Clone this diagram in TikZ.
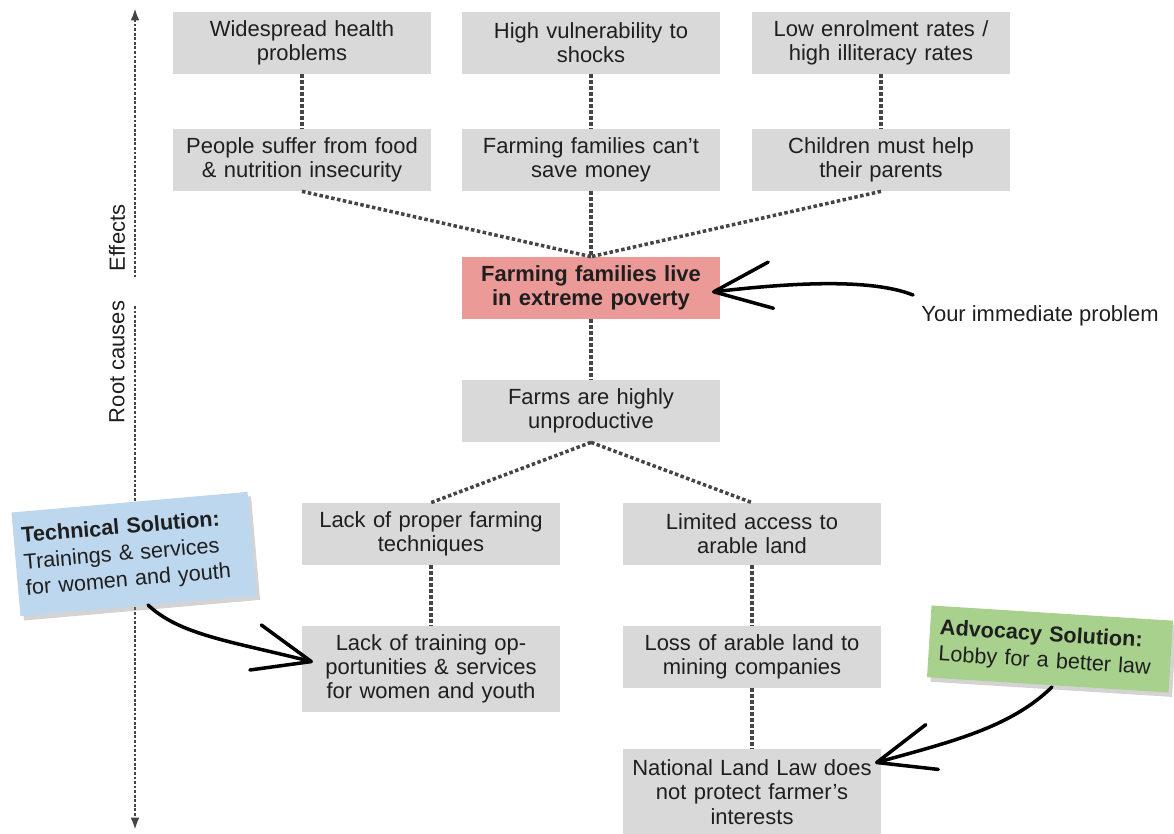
\documentclass[tikz,border=0pt]{standalone}
\usepackage{fontspec}
\setmainfont{Liberation Sans}
\usetikzlibrary{arrows.meta,shadows}
\definecolor{boxgray}{HTML}{D9D9D9}
\definecolor{probred}{HTML}{EC9A97}
\definecolor{techblue}{HTML}{BDD7EE}
\definecolor{advgreen}{HTML}{A9D18E}
\definecolor{linkgray}{HTML}{454545}

\begin{document}
\begin{tikzpicture}[x=0.02cm, y=-0.02cm,
    every node/.style={font=\fontsize{12.5}{13.8}\selectfont, text=black!88},
    box/.style={fill=boxgray, text width=5.16cm, minimum height=1.24cm, inner sep=0pt, align=center},
    tallbox/.style={box, minimum height=1.74cm},
    problem/.style={box, fill=probred, font=\fontsize{12.5}{13.8}\selectfont\bfseries},
    solution/.style={align=left, inner ysep=0pt, font=\fontsize{12.3}{15}\selectfont,
      drop shadow={shadow xshift=2pt, shadow yshift=-2.5pt, opacity=.35}},
    link/.style={draw=linkgray, line width=2pt, dash pattern=on 2pt off 1.4pt},
    axis/.style={draw=linkgray, line width=1.4pt, dash pattern=on 1.6pt off 1pt},
    hand/.style={line width=2pt, line cap=round, -{Straight Barb[length=1.15cm, width=0.93cm, round]}}]
  \useasboundingbox (0,0) rectangle (1174,834);

  \node [box] (health) at (302,43) {Widespread health\\problems};
  \node [box] (shocks) at (591,43) {High vulnerability to\\shocks};
  \node [box] (enrol) at (881,43) {Low enrolment rates /\\high illiteracy rates};
  \node [box] (food) at (302,160) {People suffer from food\\\& nutrition insecurity};
  \node [box] (save) at (591,160) {Farming families can’t\\save money};
  \node [box] (help) at (881,160) {Children must help\\their parents};
  \node [problem] (poverty) at (591,288) {Farming families live\\in extreme poverty};
  \node [box] (farms) at (591,411) {Farms are highly\\unproductive};
  \node [box] (techniques) at (431,534) {Lack of proper farming\\techniques};
  \node [box] (access) at (752,534) {Limited access to\\arable land};
  \node [tallbox] (training) at (431,669) {Lack of training op-\\portunities \& services\\for women and youth};
  \node [box] (mining) at (752,657) {Loss of arable land to\\mining companies};
  \node [tallbox] (law) at (752,792) {National Land Law does\\not protect farmer’s\\interests};

  \draw [link] (health) -- (food);
  \draw [link] (shocks) -- (save);
  \draw [link] (enrol) -- (help);
  \draw [link] (food.south) -- (poverty.north);
  \draw [link] (save) -- (poverty);
  \draw [link] (help.south) -- (poverty.north);
  \draw [link] (poverty) -- (farms);
  \draw [link] (farms.south) -- (techniques.north);
  \draw [link] (farms.south) -- (access.north);
  \draw [link] (techniques) -- (training);
  \draw [link] (access) -- (mining);
  \draw [link] (mining) -- (law);

  \coordinate (axtop) at (135,8);
  \coordinate (axgap1) at (135,277);
  \coordinate (axgap2) at (135,306);
  \coordinate (axbot) at (135,830);
  \draw [axis, {Latex[length=7pt, width=5pt]}-] (axtop) -- (axgap1);
  \draw [axis, -{Latex[length=7pt, width=5pt]}] (axgap2) -- (axbot);
  \node [rotate=90] (effects) at (117,238) {Effects};
  \node [rotate=90] (roots) at (117,362) {Root causes};

  \node [solution, fill=techblue, rotate=5, text width=4.42cm, inner xsep=0.16cm, minimum height=2.08cm] (tech) at (134,554) {\textbf{Technical Solution:}\\Trainings \& services\\for women and youth};
  \node [solution, fill=advgreen, rotate=-3.6, text width=4.44cm, inner xsep=0.2cm, minimum height=1.44cm] (advocacy) at (1050,649) {\textbf{Advocacy Solution:}\\Lobby for a better law};
  \node (immediate) at (1040,316) {Your immediate problem};

  \coordinate (techtail) at (148,605);
  \coordinate (techtip) at (313,662);
  \coordinate (probtail) at (913,295);
  \coordinate (probtip) at (712,292);
  \coordinate (advtail) at (1052,687);
  \coordinate (advtip) at (875,763);
  \draw [hand] (techtail) .. controls (180,635) and (230,641) .. (techtip);
  \draw [hand] (probtail) .. controls (870,278) and (790,283) .. (probtip);
  \draw [hand] (advtail) .. controls (1010,728) and (950,742) .. (advtip);
\end{tikzpicture}
\end{document}
